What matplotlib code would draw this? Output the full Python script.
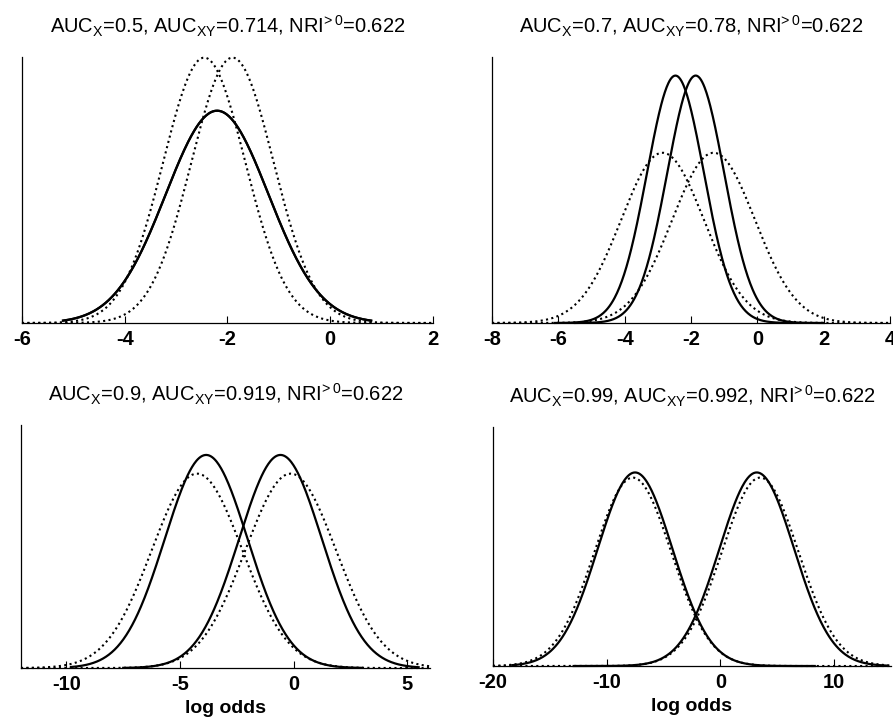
import matplotlib
matplotlib.use('Agg')
import matplotlib.pyplot as plt
import numpy as np

plt.rcParams['font.family'] = ['Liberation Sans', 'DejaVu Sans']
plt.rcParams['mathtext.default'] = 'regular'

# Parámetros (media, desviación) de cada curva
titulos = [r'AUC$_{X}$=0.5, AUC$_{XY}$=0.714, NRI$^{\hspace{-0.25}>0}$=0.622',
           r'AUC$_{X}$=0.7, AUC$_{XY}$=0.78, NRI$^{\hspace{-0.25}>0}$=0.622',
           r'AUC$_{X}$=0.9, AUC$_{XY}$=0.919, NRI$^{\hspace{-0.25}>0}$=0.622',
           r'AUC$_{X}$=0.99, AUC$_{XY}$=0.992, NRI$^{\hspace{-0.25}>0}$=0.622']

# modelo X (línea continua): medias de no eventos / eventos
medias_x = [[-2.2, -2.2], [-2.47, -1.86], [-3.85, -0.58], [-7.5, 3.2]]
sd_x = [1.0, 0.858, 1.82, 3.28]
# rango de datos de cada curva continua
rango_x = [[(-5.2, 0.8), (-5.2, 0.8)],
           [(-6.1, 1.0), (-5.5, 2.0)],
           [(-9.8, 3.0), (-7.5, 5.5)],
           [(-18.3, 8.3), (-12.9, 14.6)]]

# modelo XY (línea punteada)
medias_xy = [[-2.45, -1.9], [-2.86, -1.32], [-4.25, -0.13], [-7.7, 3.5]]
sd_xy = [0.8, 1.247, 1.995, 3.37]

xlims = [(-6, 2), (-8, 4), (-12, 6), (-20, 15)]
ylims = [0.5, 0.5, 0.25, 0.15]
xticks = [[-6, -4, -2, 0, 2], [-8, -6, -4, -2, 0, 2, 4],
          [-10, -5, 0, 5], [-20, -10, 0, 10]]

# posiciones de los ejes [izq, abajo, ancho, alto]
posiciones = [[0.0246, 0.5508, 0.460, 0.370],
              [0.551, 0.5508, 0.4457, 0.370],
              [0.0235, 0.0709, 0.458, 0.338],
              [0.552, 0.0737, 0.4457, 0.332]]


def normal(x, m, s):
    return np.exp(-0.5 * ((x - m) / s) ** 2) / (s * np.sqrt(2 * np.pi))


fig = plt.figure(figsize=(8.93, 7.19), dpi=100)

for i in range(4):
    ax = fig.add_axes(posiciones[i])
    for j in range(2):
        a, b = rango_x[i][j]
        x = np.linspace(a, b, 400)
        ax.plot(x, normal(x, medias_x[i][j], sd_x[i]), color='black',
                linewidth=1.6, clip_on=False, zorder=3)
        x = np.linspace(xlims[i][0], xlims[i][1], 400)
        ax.plot(x, normal(x, medias_xy[i][j], sd_xy[i]), color='black',
                linewidth=1.5, linestyle=(0, (1, 1.6)), clip_on=False, zorder=2)

    ax.set_xlim(xlims[i])
    ax.set_ylim(0, ylims[i])
    ax.set_xticks(xticks[i])
    ax.set_xticklabels([str(t) for t in xticks[i]], fontweight='bold', fontsize=14.5)
    ax.set_yticks([])
    ax.tick_params(axis='x', direction='in', length=5, width=0.8, pad=5)
    ax.spines['top'].set_visible(False)
    ax.spines['right'].set_visible(False)
    ax.spines['left'].set_linewidth(0.9)
    ax.spines['bottom'].set_linewidth(0.9)
    ax.set_title(titulos[i], fontsize=14.5, pad=17)
    if i >= 2:
        ax.set_xlabel('log odds', fontweight='bold', fontsize=14, labelpad=4)

fig.savefig('out.png', dpi=100)
